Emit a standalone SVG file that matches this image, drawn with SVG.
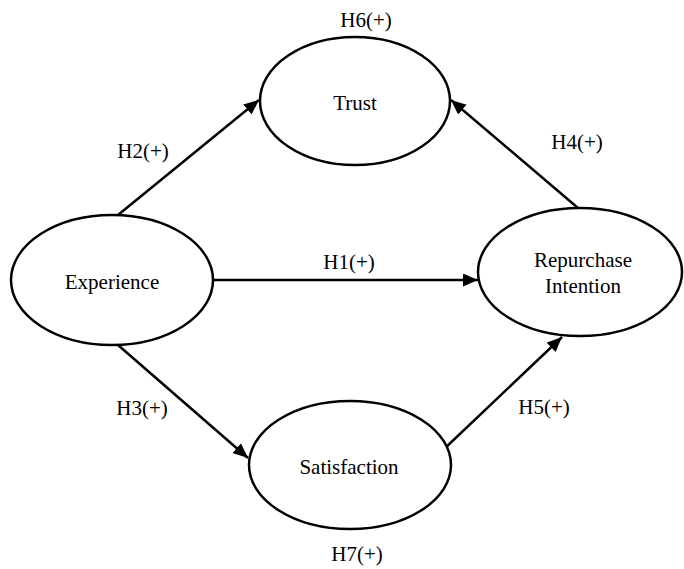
<svg xmlns="http://www.w3.org/2000/svg" width="684" height="569" viewBox="0 0 684 569">
<style>
.node ellipse{fill:#fff;stroke:#000;stroke-width:2.5}
text{font-family:"Liberation Serif","Times New Roman",serif;font-size:21px;fill:#000;text-anchor:middle}
.edge{stroke:#000;stroke-width:2.5;fill:none;marker-end:url(#arr)}
</style>
<defs>
<marker id="arr" markerUnits="userSpaceOnUse" markerWidth="16" markerHeight="14" refX="15" refY="6.5" orient="auto">
<path d="M0,0 L15,6.5 L0,13 z" fill="#000"/>
</marker>
</defs>
<rect width="684" height="569" fill="#fff"/>
<g id="connectors">
<line class="edge" x1="118" y1="215" x2="259" y2="100"/>
<line class="edge" x1="578" y1="208" x2="451" y2="100"/>
<line class="edge" x1="213" y1="280" x2="478" y2="280"/>
<line class="edge" x1="118" y1="345" x2="248" y2="458"/>
<line class="edge" x1="443" y1="450" x2="562" y2="337"/>
</g>
<g id="trust" class="node">
<ellipse cx="355" cy="101" rx="95" ry="64"/>
<text x="355" y="110">Trust</text>
</g>
<g id="experience" class="node">
<ellipse cx="112" cy="280" rx="101" ry="65"/>
<text x="112" y="289">Experience</text>
</g>
<g id="repurchase" class="node">
<ellipse cx="580" cy="272" rx="102" ry="64"/>
<text x="583" y="267">Repurchase</text>
<text x="583" y="293">Intention</text>
</g>
<g id="satisfaction" class="node">
<ellipse cx="350" cy="465" rx="101" ry="64"/>
<text x="349" y="474">Satisfaction</text>
</g>
<g id="labels">
<text x="366" y="27">H6(+)</text>
<text x="143" y="158">H2(+)</text>
<text x="577" y="149">H4(+)</text>
<text x="349" y="269">H1(+)</text>
<text x="142" y="415">H3(+)</text>
<text x="544" y="414">H5(+)</text>
<text x="357" y="561">H7(+)</text>
</g>
</svg>
